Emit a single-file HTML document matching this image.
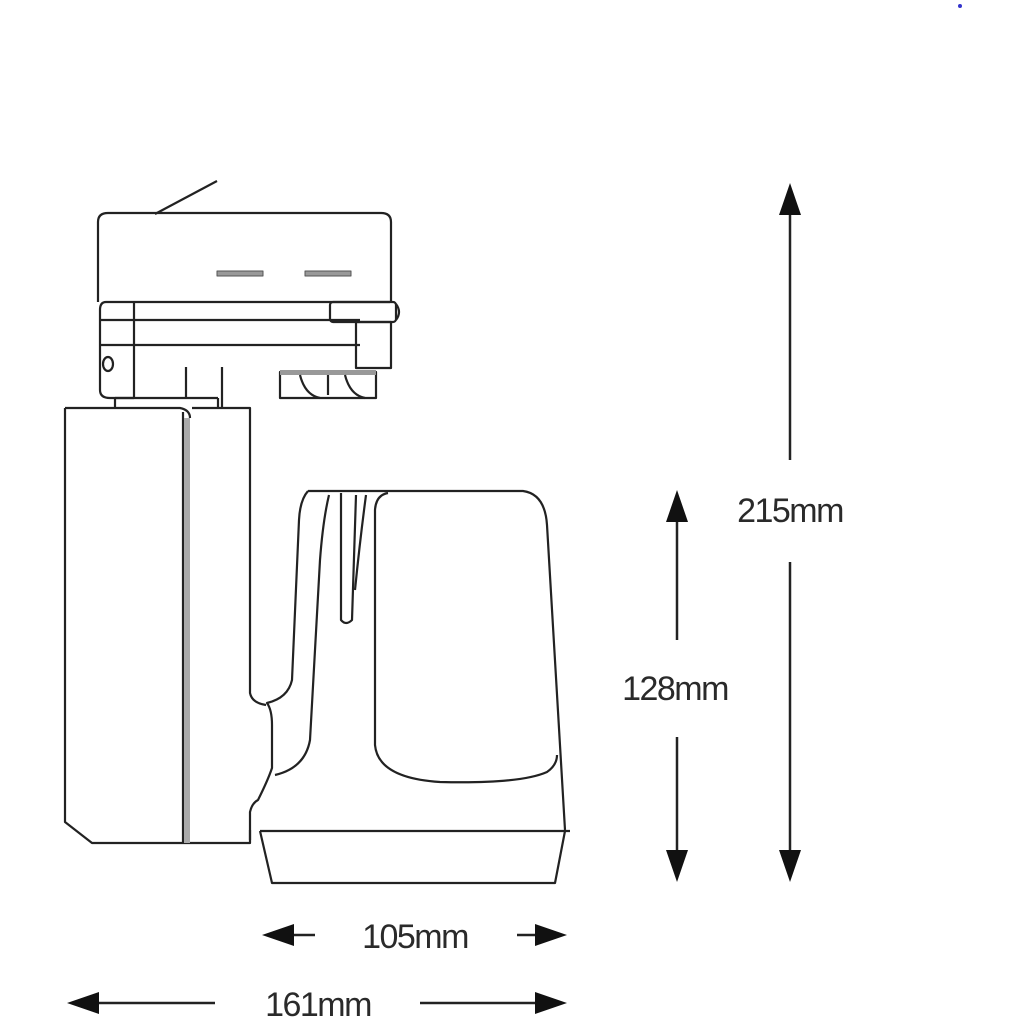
<!DOCTYPE html>
<html><head><style>
html,body{margin:0;padding:0;background:#fff;}
svg{display:block;}
text{font-family:"Liberation Sans",sans-serif;font-size:34px;fill:#2a2a2a;letter-spacing:-1.5px;}
</style></head><body>
<svg width="1024" height="1024" viewBox="0 0 1024 1024" xmlns="http://www.w3.org/2000/svg">
<g fill="none" stroke="#222" stroke-width="2.2" stroke-linejoin="round">
<!-- adapter -->
<line x1="155" y1="214" x2="217" y2="181"/>
<path d="M98 302 V222 Q98 213 108 213 H381 Q391 213 391 222 V302"/>
<rect x="217" y="271" width="46" height="5" fill="#999" stroke="#555" stroke-width="1"/>
<rect x="305" y="271" width="46" height="5" fill="#999" stroke="#555" stroke-width="1"/>
<path d="M106 302 H390 M100 320 H360 M100 345 H360"/>
<path d="M106 302 Q100 302 100 310 V390 Q100 398 110 398 H134"/>
<line x1="134" y1="302" x2="134" y2="398"/>
<rect x="330" y="302" width="66" height="20" rx="3"/>
<path d="M396 304 Q402 312 396 320"/>
<rect x="356" y="322" width="35" height="46"/>
<ellipse cx="108" cy="364" rx="5" ry="7"/>
<path d="M115 398 V408 M218 398 V408 M115 398 H218 M186 367 V398 M222 367 V408"/>
<rect x="280" y="372" width="96" height="26"/>
<rect x="280" y="370" width="96" height="5" fill="#999" stroke="none"/>
<path d="M300 375 Q305 395 320 398 M345 375 Q350 395 365 398 M328 375 V395"/>
<!-- left body -->
<path d="M65 408 H180 Q190 410 190 418 M192 408 H250 V693 Q252 703 266 705"/>
<path d="M65 408 V822 L92 843 H250 V830"/>
<line x1="183" y1="412" x2="183" y2="843"/>
<rect x="184" y="418" width="6" height="425" fill="#aaa" stroke="none"/>
<!-- lamp -->
<path d="M308 491 H523 Q545 494 547 525 L565 830"/>
<path d="M308 491 Q300 500 299 520 L292 680 Q288 698 267 703 Q272 710 272 725 V768 Q268 780 258 800 Q252 803 250 812 V840"/>
<path d="M329 495 Q323 520 320 560 L310 740 Q305 768 275 775"/>
<path d="M341 493 V620 Q346 626 352 620 L356 495"/>
<path d="M366 495 Q360 540 355 590"/>
<path d="M388 493 Q376 495 375 510 V745 Q378 778 440 782 Q520 784 547 772 Q557 765 557 755"/>
<line x1="260" y1="831" x2="570" y2="831"/>
<path d="M260 831 L272 883 H555 L565 831"/>
</g>
<!-- dimension lines -->
<g stroke="#222" stroke-width="2.5" fill="none">
<path d="M790 205 V460 M790 562 V860"/>
<path d="M677 512 V640 M677 737 V860"/>
<path d="M285 935 H315 M517 935 H545"/>
<path d="M90 1003 H215 M420 1003 H545"/>
</g>
<g fill="#111">
<polygon points="790,183 779,215 801,215"/>
<polygon points="790,882 779,850 801,850"/>
<polygon points="677,490 666,522 688,522"/>
<polygon points="677,882 666,850 688,850"/>
<polygon points="262,935 294,924 294,946"/>
<polygon points="567,935 535,924 535,946"/>
<polygon points="67,1003 99,992 99,1014"/>
<polygon points="567,1003 535,992 535,1014"/>
</g>
<text x="790" y="522" text-anchor="middle">215mm</text>
<text x="675" y="700" text-anchor="middle">128mm</text>
<text x="415" y="948" text-anchor="middle">105mm</text>
<text x="318" y="1016" text-anchor="middle">161mm</text>
<circle cx="960" cy="6" r="2" fill="#33c"/>
</svg>
</body></html>
